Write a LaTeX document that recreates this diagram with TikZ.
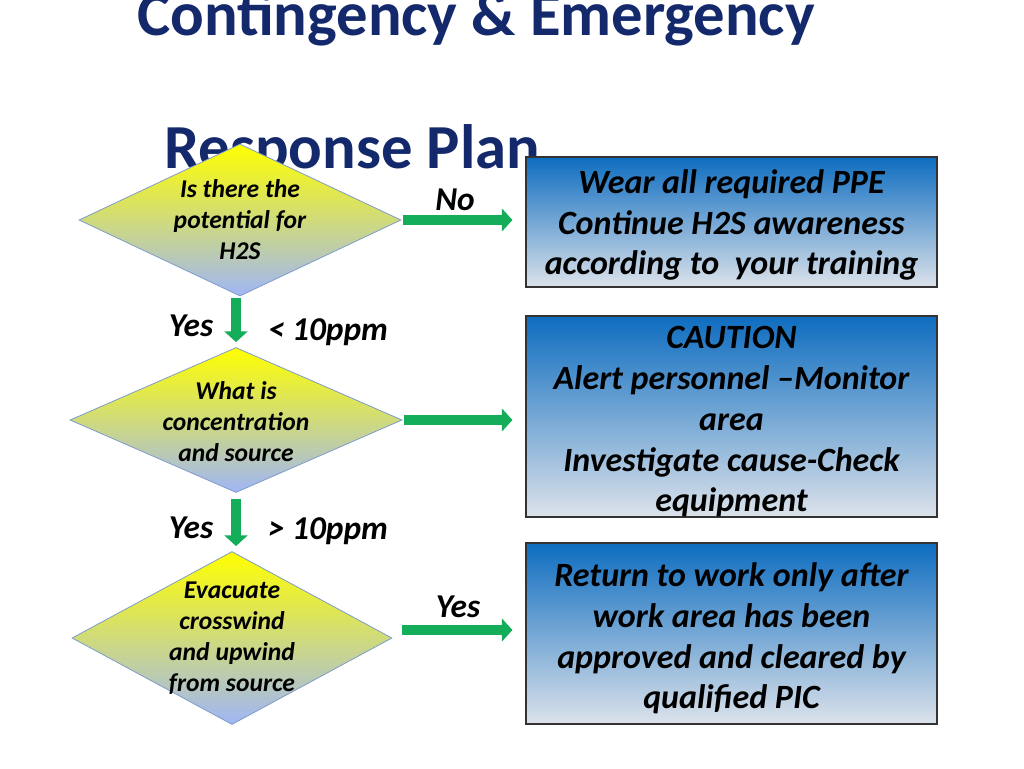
\documentclass[tikz,border=0pt]{standalone}
\usepackage{fontspec}
\setmainfont{Carlito}
\usetikzlibrary{shapes.geometric,arrows.meta}
\definecolor{titleblue}{HTML}{13296B}
\definecolor{flowgreen}{HTML}{14AD5A}
\definecolor{dtop}{HTML}{FFFF00}
\definecolor{dbot}{HTML}{A0B6F6}
\definecolor{dline}{HTML}{7F9CC8}
\definecolor{btop}{HTML}{0E6DC0}
\definecolor{bbot}{HTML}{DCE2EA}
\tikzset{
  decision/.style={diamond, draw=dline, line width=0.6pt, top color=dtop, bottom color=dbot, inner sep=0pt},
  dtext/.style={align=center, font=\fontsize{19.2pt}{23.25pt}\selectfont\bfseries\itshape},
  action/.style={rectangle, draw=black!80, line width=0.8pt, top color=btop, bottom color=bbot, minimum width=308.25pt},
  atext/.style={align=center, font=\fontsize{25.5pt}{30.6pt}\selectfont\bfseries\itshape},
  answer/.style={font=\fontsize{25pt}{30pt}\selectfont\bfseries\itshape},
  flow/.style={draw=flowgreen, line width=7.5pt, -{Triangle[length=8pt,width=17pt]}}
}
\begin{document}
\begin{tikzpicture}[x=0.75pt,y=-0.75pt]
				\useasboundingbox[fill=white] (0,0) rectangle (1024,768);
				% title
				\node[anchor=base west, inner sep=0pt, text=titleblue, font=\fontsize{47pt}{56pt}\selectfont\bfseries] (title1) at (137,35) {Contingency \& Emergency};
				\node[anchor=base west, inner sep=0pt, text=titleblue, font=\fontsize{47pt}{56pt}\selectfont\bfseries] (title2) at (164,168) {Response Plan};
				% decisions
				\node[decision, minimum width=241.5pt, minimum height=114pt] (d1) at (240,220) {};
				\node[dtext] (t1) at (d1) {Is there the\\potential for\\H2S};
				\node[decision, minimum width=249pt, minimum height=108.75pt] (d2) at (236,420) {};
				\node[dtext] (t2) at ([yshift=-1.5pt]d2) {What is\\concentration\\and source};
				\node[decision, minimum width=240pt, minimum height=129.75pt] (d3) at (232,638) {};
				\node[dtext] (t3) at (d3) {Evacuate\\crosswind\\and upwind\\from source};
				% actions
				\node[action, minimum height=97.5pt] (b1) at (731.5,222) {};
				\node[atext] (b1t) at ([yshift=-2.25pt]b1) {Wear all required PPE\\Continue H2S awareness\\according to\ \ your training};
				\node[action, minimum height=150.75pt] (b2) at (731.5,416.5) {};
				\node[atext] (b2t) at ([yshift=-4pt]b2) {CAUTION\\Alert personnel --Monitor\\area\\Investigate cause-Check\\equipment};
				\node[action, minimum height=135.75pt] (b3) at (731.5,633.5) {};
				\node[atext] (b3t) at ([yshift=-3.75pt]b3) {Return to work only after\\work area has been\\approved and cleared by\\qualified PIC};
				% arrows
				\coordinate (a1) at ([xshift=1.5pt]d1.east);
				\coordinate (a2) at ([xshift=1.5pt]d2.east);
				\coordinate (a3) at ([shift={(10,-8)}]d3.east);
				\draw[flow, shorten >=9.75pt] (a1) -- (a1 -| b1.west);
				\draw[flow, shorten >=9.75pt] (a2) -- (a2 -| b2.west);
				\draw[flow, shorten >=9.75pt] (a3) -- (a3 -| b3.west);
				\draw[flow, shorten <=1.5pt, shorten >=3.75pt] (d2.north |- d1.south) -- (d2.north);
				\draw[flow, shorten <=4.5pt, shorten >=3.75pt] (d2.south) -- (d2.south |- d3.north);
				% labels
				\node[answer] (no1) at (455,200) {No};
				\node[answer] (yes1) at (191,326) {Yes};
				\node[answer] (lo) at (328,332) {< 10ppm};
				\node[answer] (yes2) at (191,528) {Yes};
				\node[answer] (hi) at (328,531) {> 10ppm};
				\node[answer] (yes3) at (458,607) {Yes};
\end{tikzpicture}
\end{document}
